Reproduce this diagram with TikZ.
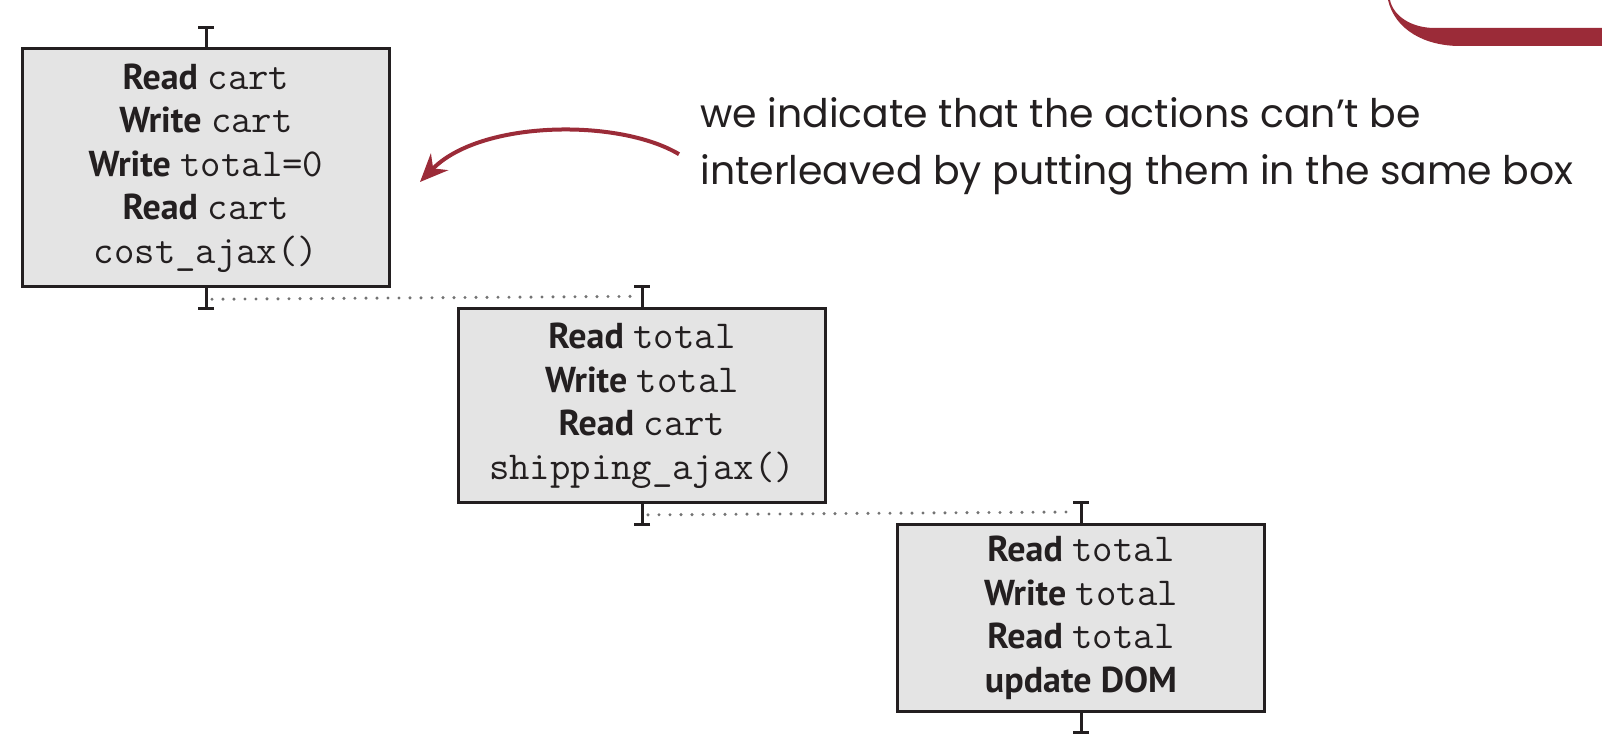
\documentclass[tikz,border=0pt]{standalone}
\usepackage{fontspec}
\setsansfont{PT Sans}
\newfontfamily\notefont{Poppins}
\usepackage{tikz}
\usetikzlibrary{arrows.meta,calc}
\definecolor{boxgray}{HTML}{E4E4E4}
\definecolor{notered}{HTML}{9B2B38}
\definecolor{ink}{HTML}{231F20}
\newcommand{\kw}[1]{\textbf{#1}}
\newcommand{\cd}[1]{{\fontsize{19.8}{21.8}\selectfont\ttfamily #1}}

\begin{document}
\begin{tikzpicture}[x=0.5pt,y=-0.5pt,
blk/.style={draw=ink,line width=1.5pt,fill=boxgray,minimum width=183.5pt,minimum height=#1,inner sep=0pt,align=center,text=ink,font=\sffamily\fontsize{18}{21.8}\selectfont},
bound/.style={draw=ink,line width=1.5pt,-{Bar[width=8pt]}},
waitline/.style={draw=black!55,line width=1.7pt,line cap=round,dash pattern=on 0pt off 5.5pt,shorten <=3pt,shorten >=3pt},
note/.style={font=\notefont\fontsize{19.7}{28.5}\selectfont,align=left,inner sep=0pt,anchor=north west,text=ink},
pointer/.style={draw=notered,line width=2pt,-{Stealth[length=14pt,width=12pt]}}]
\useasboundingbox (0,0) rectangle (1602,754);
\fill[notered] (1388,0) .. controls (1395,30) and (1425,46) .. (1460,46) -- (1602,46) -- (1602,28) -- (1435,28) .. controls (1410,28) and (1393,15) .. (1390,0) -- cycle;
\node[blk=119pt] (box1) at (206,168) {\kw{Read} \cd{cart}\\ \kw{Write} \cd{cart}\\ \kw{Write} \cd{total=0}\\ \kw{Read} \cd{cart}\\ \cd{cost\_ajax()}};
\node[blk=97pt] (box2) at (642,405.6) {\kw{Read} \cd{total}\\ \kw{Write} \cd{total}\\ \kw{Read} \cd{cart}\\ \cd{shipping\_ajax()}};
\node[blk=93.5pt] (box3) at (1081,617.7) {\kw{Read} \cd{total}\\ \kw{Write} \cd{total}\\ \kw{Read} \cd{total}\\ \kw{update DOM}};
\foreach \b in {box1,box2,box3} {
   \draw[bound] (\b.north) -- ++(0,-21.6) coordinate (\b-n);
   \draw[bound] (\b.south) -- ++(0,21.6) coordinate (\b-s);
}
\foreach \a/\b in {box1/box2,box2/box3}
   \draw[waitline] ($(\a.south)!.5!(\a-s)$) -- ($(\b.north)!.5!(\b-n)$);
\node[note] (note) at (700,97) {we indicate that the actions can’t be\\interleaved by putting them in the same box};
\coordinate (tip) at ([shift={(29,14)}]box1.east);
\draw[pointer] ([shift={(-21,8)}]note.west) .. controls +(-60,-36) and +(60,-62) .. (tip);
\end{tikzpicture}
\end{document}
